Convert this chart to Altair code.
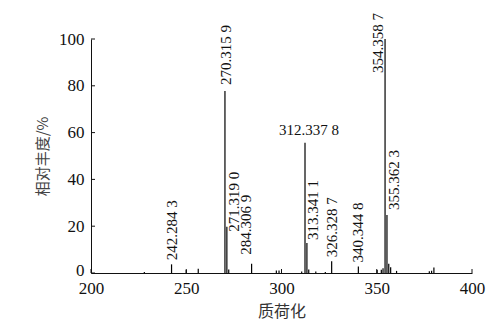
import altair as alt
import pandas as pd

# peak list (m/z, relative abundance %)
mz = [228.0, 242.2843, 250.0, 256.3, 270.3159, 271.3190, 272.3, 284.3069,
      297.3, 298.7, 310.6, 312.3378, 313.3411, 314.3, 318.0, 323.0,
      326.3287, 340.3448, 350.2, 352.4, 353.3, 354.3587, 355.3623, 356.3,
      357.3, 360.4, 377.6, 378.8, 380.0]
abund = [0.4, 3.7, 1.3, 1.8, 77.8, 19.8, 1.5, 4.0,
         1.1, 1.1, 0.6, 55.7, 12.8, 1.5, 0.6, 0.4,
         5.0, 2.8, 1.3, 1.4, 2.0, 100.0, 24.8, 4.0,
         2.5, 0.9, 0.8, 1.0, 2.4]

# labelled peaks
label_mz = [242.2843, 270.3159, 271.3190, 284.3069, 312.3378, 313.3411,
            326.3287, 340.3448, 354.3587, 355.3623]
label_text = ["242.284 3", "270.315 9", "271.319 0", "284.306 9", "312.337 8",
              "313.341 1", "326.328 7", "340.344 8", "354.358 7", "355.362 3"]

x_ticks = [200, 250, 300, 350, 400]
y_ticks = [0, 20, 40, 60, 80, 100]

# label placement (style): (dx, dy, angle, align, baseline)
placement = {
    "242.284 3": (4, 0, 270, "left", "middle"),
    "270.315 9": (6, 1, 270, "left", "middle"),
    "271.319 0": (-5, 7, 270, "left", "middle"),
    "284.306 9": (9, -6, 270, "left", "middle"),
    "312.337 8": (4, -5, 0, "center", "bottom"),
    "313.341 1": (3, 6, 270, "left", "middle"),
    "326.328 7": (4, 0, 270, "left", "middle"),
    "340.344 8": (4, 0, 270, "left", "middle"),
    "354.358 7": (26, -7, 270, "right", "middle"),
    "355.362 3": (5, 7, 270, "left", "middle"),
}

peaks = pd.DataFrame({"mz": mz, "abund": abund})
lab = pd.DataFrame({"mz": label_mz, "text": label_text})
lab["abund"] = [abund[mz.index(m)] for m in label_mz]

FONT = "Liberation Serif"
CJK = "Noto Sans CJK SC"
INK = "#111111"

xs = alt.Scale(domain=[200, 400], nice=False)
ys = alt.Scale(domain=[0, 100], nice=False)

bars = alt.Chart(peaks).mark_rule(color="#000000", strokeWidth=1.2).encode(
    x=alt.X("mz:Q", scale=xs,
            axis=alt.Axis(values=x_ticks, title="质荷化", ticks=False,
                          labelFont=FONT, labelFontSize=17, labelColor=INK,
                          labelPadding=7, labelFlush=False, labelOverlap=False,
                          domainColor=INK,
                          titleFont=CJK, titleFontSize=16, titleFontWeight="normal",
                          titleColor="#333", titlePadding=7, grid=False)),
    y=alt.Y("abund:Q", scale=ys,
            axis=alt.Axis(values=y_ticks, title="相对丰度/%", ticks=False,
                          labelFont=FONT, labelFontSize=17, labelColor=INK,
                          labelPadding=7, labelFlush=False, labelOverlap=False,
                          labelOffset={"condition": {"test": "datum.value === 0", "value": -3},
                                       "value": 0},
                          domainColor=INK,
                          titleFont=CJK, titleFontSize=15, titleFontWeight="normal",
                          titleColor="#444", titlePadding=8, grid=False)),
    y2=alt.datum(0),
)

xt = alt.Chart(pd.DataFrame({"t": x_ticks})).mark_rule(color=INK).encode(
    x=alt.X("t:Q", scale=xs), y=alt.value(234), y2=alt.value(230))
yt = alt.Chart(pd.DataFrame({"t": y_ticks})).mark_rule(color=INK).encode(
    y=alt.Y("t:Q", scale=ys), x=alt.value(0), x2=alt.value(4))

layers = [bars, xt, yt]
for t in label_text:
    dx, dy, ang, al, bl = placement[t]
    kw = dict(font=FONT, fontSize=15, color=INK, dx=dx, dy=dy, align=al, baseline=bl)
    if ang:
        kw["angle"] = ang
    layers.append(
        alt.Chart(lab).transform_filter(alt.datum.text == t).mark_text(**kw).encode(
            x=alt.X("mz:Q", scale=xs), y=alt.Y("abund:Q", scale=ys), text="text:N"))

chart = alt.layer(*layers).properties(
    width=381, height=234,
    autosize=alt.AutoSizeParams(type="none"),
    padding={"left": 91, "top": 39, "right": 32, "bottom": 56},
    background="white",
).configure_view(stroke=None)

chart.save("out.html", embed_options={"renderer": "svg", "actions": False})
